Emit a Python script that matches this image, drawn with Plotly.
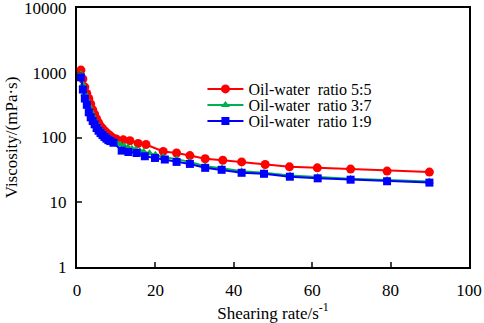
import plotly.graph_objects as go

red_x = [1, 1.5, 2, 2.5, 3, 3.5, 4, 4.5, 5, 5.5, 6, 6.5, 7, 7.5, 8, 8.5, 9, 10, 11.8, 13.5,
         15.6, 17.6, 22, 25.4, 28.8, 32.7, 37.2, 42, 48, 54.2, 61.3, 69.8, 79.1, 89.9]
red_y = [1100, 800, 600, 480, 400, 330, 270, 230, 195, 170, 150, 138, 127, 119, 112, 106, 100,
         95, 92, 89, 81, 78, 61, 57.6, 52.6, 47, 44.6, 42, 38.3, 35.2, 34, 32.5, 30.3, 29.2]

green_x = [1, 1.5, 2, 2.5, 3, 3.5, 4, 4.5, 5, 5.5, 6, 6.5, 7, 7.5, 8, 8.5, 9, 10, 11, 12, 13, 14,
           15, 16, 17, 18.5, 20, 22, 25.4, 28.8, 32.7, 37, 42, 47.7, 54.3, 61.4, 69.8, 79.1, 89.9]
green_y = [950, 650, 480, 380, 310, 255, 215, 185, 162, 145, 132, 121, 112, 105, 100, 95, 91, 84,
           78, 74, 70, 67, 65, 62, 60, 57, 54, 50, 46, 42, 36, 33.5, 30, 28.5, 26, 24.5, 23, 22, 21]

blue_x = [1, 1.5, 2, 2.5, 3, 3.5, 4, 4.5, 5, 5.5, 6, 6.5, 7, 7.5, 8, 8.5, 9.3, 11.4, 13.1, 15.2,
          17.3, 19.9, 22.4, 25.4, 28.8, 32.7, 36.9, 42, 47.7, 54.3, 61.4, 69.8, 79.1, 89.9]
blue_y = [850, 550, 400, 320, 245, 205, 180, 160, 140, 127, 117, 109, 102, 96, 91, 88, 83, 62.7,
          59.7, 57.6, 51.3, 48.3, 45.7, 42, 39.1, 34, 31.7, 28.5, 27.5, 24.8, 23.4, 22.3, 21.1, 20.1]

names = ["Oil-water  ratio 5:5", "Oil-water  ratio 3:7", "Oil-water  ratio 1:9"]
x_ticks = [0, 20, 40, 60, 80, 100]
y_ticks = [1, 10, 100, 1000, 10000]

FONT = "Liberation Serif, Times New Roman, serif"
FS = 17

T, B = 8, 56
plot_h = 323 - T - B


def paper_y(py):
    return (323 - B - py) / plot_h


fig = go.Figure()
fig.add_trace(go.Scatter(x=red_x, y=red_y, name=names[0], mode="lines+markers", legend="legend",
                         line=dict(color="#ff0000", width=2),
                         marker=dict(symbol="circle", size=9, color="#ff0000")))
fig.add_trace(go.Scatter(x=green_x, y=green_y, name=names[1], mode="lines+markers", legend="legend2",
                         line=dict(color="#00b050", width=2),
                         marker=dict(symbol="triangle-up", size=8, color="#00b050")))
fig.add_trace(go.Scatter(x=blue_x, y=blue_y, name=names[2], mode="lines+markers", legend="legend3",
                         line=dict(color="#0000ff", width=2),
                         marker=dict(symbol="square", size=8, color="#0000ff")))

leg_common = dict(x=0.32, xanchor="left", yanchor="middle", bgcolor="rgba(0,0,0,0)",
                  font=dict(size=16, family=FONT, color="black"), itemwidth=36)

fig.update_layout(
    width=484, height=323,
    margin=dict(l=77, r=15, t=T, b=B, autoexpand=False),
    paper_bgcolor="white", plot_bgcolor="white",
    font=dict(family=FONT, size=FS, color="black"),
    showlegend=True,
    legend=dict(y=paper_y(89), **leg_common),
    legend2=dict(y=paper_y(105), **leg_common),
    legend3=dict(y=paper_y(121), **leg_common),
)
fig.update_xaxes(range=[0, 100], tickvals=x_ticks, ticks="inside", ticklen=5, tickwidth=2,
                 showline=True, linecolor="black", linewidth=2, mirror=True,
                 showgrid=False, zeroline=False, ticklabeloverflow="allow",
                 ticklabelstandoff=7, automargin=False,
                 tickfont=dict(size=FS, family=FONT),
                 title=dict(text="Shearing rate/s<sup>-1</sup>", standoff=2,
                            font=dict(size=FS, family=FONT)))
fig.update_yaxes(type="log", range=[0, 4], tickvals=y_ticks, ticktext=[str(v) for v in y_ticks],
                 ticks="inside", ticklen=5, tickwidth=2,
                 showline=True, linecolor="black", linewidth=2, mirror=True,
                 showgrid=False, zeroline=False, ticklabeloverflow="allow",
                 ticklabelstandoff=5, automargin=False,
                 tickfont=dict(size=FS, family=FONT),
                 title=dict(text="Viscosity/(mPa·s)", standoff=2,
                            font=dict(size=FS, family=FONT)))

fig.write_html("out.html", config={"displayModeBar": False},
               post_script="document.body.style.margin='0';document.body.style.overflow='hidden';")
